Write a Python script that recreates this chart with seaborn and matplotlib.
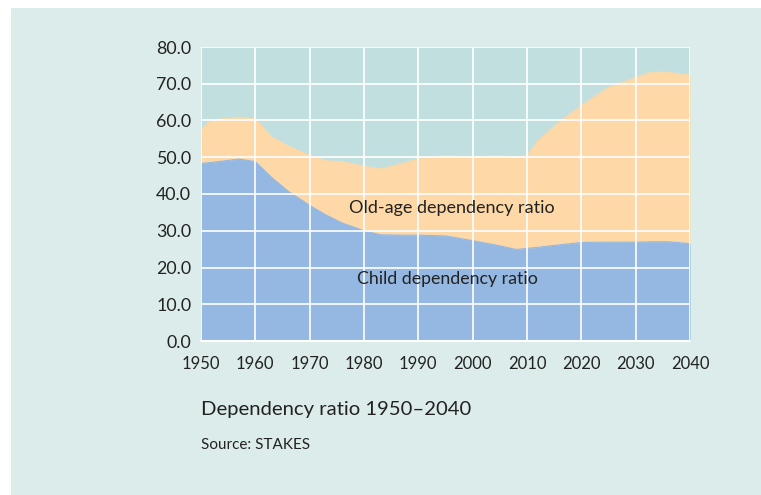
import matplotlib
matplotlib.use("Agg")
import matplotlib.pyplot as plt
from matplotlib.patches import Rectangle
import seaborn as sns
import pandas as pd

# Data
years = [1950, 1952, 1957, 1960, 1963, 1966, 1970, 1973, 1976, 1980, 1983, 1987, 1990,
         1995, 2000, 2005, 2008, 2010, 2012, 2015, 2020, 2025, 2030, 2033, 2036, 2040]
child_ratio = [48.3, 48.6, 49.5, 48.8, 44.5, 40.8, 36.9, 34.3, 32.1, 30.0, 28.9, 28.8, 28.8,
               28.6, 27.3, 25.9, 24.9, 25.2, 25.5, 26.0, 26.8, 26.9, 26.9, 27.0, 27.0, 26.5]
total_ratio = [57.7, 60.1, 60.9, 60.4, 55.5, 53.1, 50.5, 49.0, 48.8, 47.6, 46.8, 48.3, 49.6,
               50.5, 50.1, 50.4, 49.9, 50.5, 54.4, 58.5, 64.1, 69.0, 71.7, 73.2, 73.1, 72.3]
x_ticks = list(range(1950, 2041, 10))
y_ticks = list(range(0, 81, 10))

# Colours
PANEL = "#DCECEB"
PLOT_BG = "#C2DFDF"
ORANGE = "#FED8A6"
BLUE = "#94B8E2"
TEXT = "#222222"

df = pd.DataFrame({"year": years, "child": child_ratio, "total": total_ratio})

sns.set_style("white")
plt.rcParams["font.family"] = ["Lato", "DejaVu Sans"]

fig = plt.figure(figsize=(7.61, 4.95), dpi=100)
fig.patch.set_facecolor("white")
fig.patches.append(Rectangle((11 / 761, 0), 1, 1 - 8 / 495, transform=fig.transFigure,
                             facecolor=PANEL, edgecolor="none", zorder=-10))

ax = fig.add_axes([201 / 761, 1 - 341 / 495, 489 / 761, 294 / 495])
ax.set_facecolor(PLOT_BG)

# ==================== ОБЛАСТИ ====================
ax.fill_between(df["year"], df["child"], df["total"], color=ORANGE, lw=0, zorder=1)
ax.fill_between(df["year"], 0, df["child"], color=BLUE, lw=0, zorder=1)
sns.lineplot(data=df, x="year", y="total", ax=ax, color=ORANGE, lw=0.8, zorder=1.5)
sns.lineplot(data=df, x="year", y="child", ax=ax, color=BLUE, lw=0.8, zorder=1.5)

ax.set_xlim(1950, 2040)
ax.set_ylim(0, 80)
ax.set_xticks(x_ticks)
ax.set_yticks(y_ticks)
ax.set_yticklabels([f"{v:.1f}" for v in y_ticks])
ax.set_xlabel("")
ax.set_ylabel("")

ax.set_axisbelow(False)
ax.grid(True, color="white", lw=1.2)
for s in ax.spines.values():
    s.set_visible(False)
ax.tick_params(axis="x", colors="white", length=5, width=1.2, pad=6,
               labelcolor=TEXT, labelsize=12)
ax.tick_params(axis="y", length=0, pad=7, labelcolor=TEXT, labelsize=12.8)
ax.axhline(0, color="white", lw=1.5, zorder=3, clip_on=False)

ax.text(1996.2, 36.3, "Old-age dependency ratio", ha="center", va="center",
        fontsize=13, color=TEXT)
ax.text(1995.3, 17.0, "Child dependency ratio", ha="center", va="center",
        fontsize=12.8, color=TEXT)

fig.text(201 / 761, 1 - 410 / 495, "Dependency ratio 1950\u20132040", ha="left",
         va="center", fontsize=14.6, color=TEXT)
fig.text(201 / 761, 1 - 445 / 495, "Source: STAKES", ha="left", va="center",
         fontsize=11, color=TEXT)

fig.savefig("out.png", dpi=100, facecolor=fig.get_facecolor())
